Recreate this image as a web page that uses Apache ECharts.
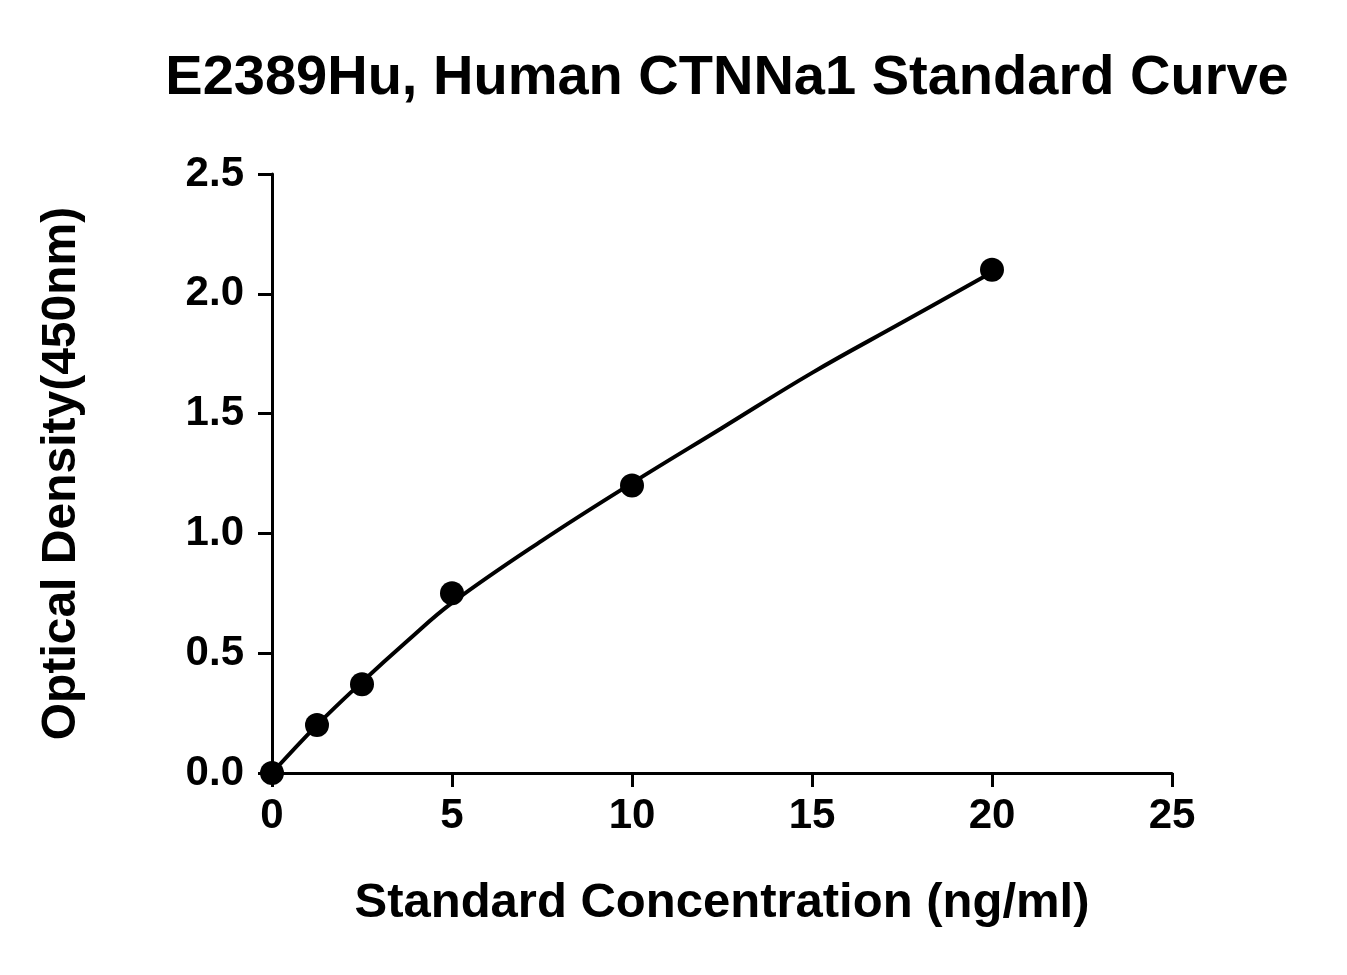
<!DOCTYPE html><html><head><meta charset="utf-8"><script src="https://cdn.jsdelivr.net/npm/echarts@6/dist/echarts.min.js"></script></head><body style="margin:0;background:#fff"><div id="c" style="width:1347px;height:975px"></div><script>
const pointX=[0,1.25,2.5,5,10,20];
const pointY=[0,0.20,0.37,0.75,1.20,2.10];
const curveX=[0,1.25,2.5,3.75,5,7.5,10,12.5,15,17.5,20];
const curveY=[0,0.20,0.38,0.55,0.71,0.97,1.21,1.44,1.67,1.88,2.09];
const c=echarts.init(document.getElementById('c'));
const F='Liberation Sans';
const ax={axisLine:{lineStyle:{color:'#000',width:3}},axisTick:{inside:false,length:14,lineStyle:{color:'#000',width:3}},splitLine:{show:false},axisLabel:{color:'#000',fontSize:42,fontWeight:'bold',fontFamily:F}};
c.setOption({
title:{text:'E2389Hu, Human CTNNa1 Standard Curve',left:722,top:46,textAlign:'center',textStyle:{fontSize:56,fontWeight:'bold',color:'#000',fontFamily:F}},
grid:{left:272,right:175,top:174,bottom:202},
xAxis:Object.assign({type:'value',min:0,max:25,interval:5,name:'Standard Concentration (ng/ml)',nameLocation:'middle',nameGap:106,nameTextStyle:{fontSize:49,fontWeight:'bold',color:'#000',fontFamily:F}},ax,{axisLabel:Object.assign({},ax.axisLabel,{margin:22})}),
yAxis:Object.assign({type:'value',min:0,max:2.5,interval:0.5,name:'Optical Density(450nm)',nameLocation:'middle',nameGap:186,nameTextStyle:{fontSize:48,fontWeight:'bold',color:'#000',fontFamily:F}},ax,{axisLabel:Object.assign({},ax.axisLabel,{margin:28,formatter:v=>v.toFixed(1)})}),
series:[
{type:'line',data:curveX.map((x,i)=>[x,curveY[i]]),smooth:0.4,showSymbol:false,lineStyle:{color:'#000',width:4},z:2},
{type:'scatter',data:pointX.map((x,i)=>[x,pointY[i]]),symbolSize:24,itemStyle:{color:'#000',opacity:1},z:3}
]});
</script></body></html>
